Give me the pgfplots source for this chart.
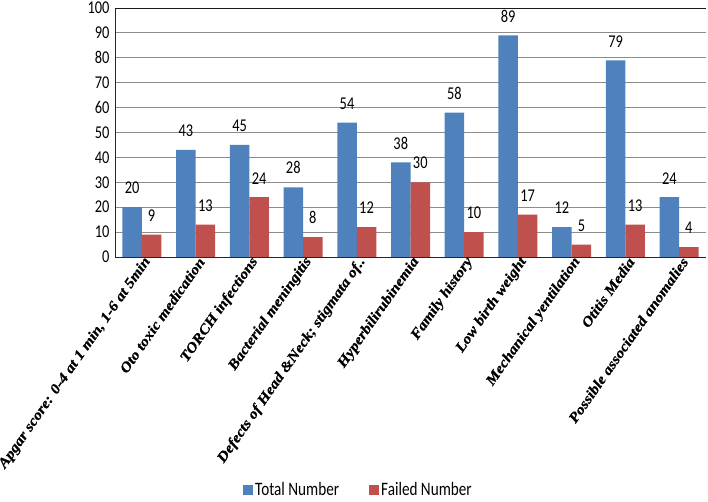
\documentclass[border=0pt]{standalone}
\usepackage{fontspec}
\usepackage{pgfplots}
\pgfplotsset{compat=1.18}
\newfontfamily\calib[FakeStretch=0.8]{Carlito}
\newfontfamily\catfont[FakeStretch=1.12,BoldItalicFeatures={FakeBold=0.8}]{Liberation Serif}
\definecolor{totalblue}{HTML}{4F81BD}
\definecolor{failred}{HTML}{C0504D}
\newcommand{\numfont}{\calib\fontsize{18}{18}\selectfont}

\begin{document}
\begin{tikzpicture}
\begin{axis}[
scale only axis,width=591pt,height=249pt,
ybar=0pt,bar width=19.5pt,
xmin=-0.5,xmax=10.5,ymin=0,ymax=100,
xtick={0,...,10},ytick={0,10,...,100},
xticklabels={
  {Apgar score: 0-4 at 1 min, 1-6 at 5min},
  {Oto toxic medication},
  {TORCH infections},
  {Bacterial meningitis},
  {Defects of Head \&Neck; stigmata of..},
  {Hyperbilirubinemia},
  {Family history},
  {Low birth weight},
  {Mechanical yentilation},
  {Otitis Media},
  {Possible associated anomalies}},
axis x line*=bottom,axis y line*=left,
axis line style={black!85,line width=0.9pt},
major tick length=0pt,
ymajorgrids,grid style={black!45,line width=0.8pt},
extra y ticks={100},extra y tick labels={},
extra y tick style={grid style={black!90,line width=0.9pt}},
/pgf/number format/assume math mode=true,
yticklabel style={font=\numfont,xshift=-2pt},
xticklabel style={font=\catfont\bfseries\itshape\fontsize{14.3}{16}\selectfont,
  rotate=55,anchor=east,xshift=5pt,yshift=-6pt},
nodes near coords,
every node near coord/.append style={font=\numfont,text=black,anchor=south,
  inner sep=0pt,yshift=13pt},
legend columns=2,
legend style={draw=none,fill=none,at={(0.412,-0.936)},anchor=center,
  font=\calib\fontsize{19}{19}\selectfont,
  /tikz/every even column/.append style={column sep=28pt}},
legend image code/.code={\fill[#1] (0pt,-5pt) rectangle (10pt,5pt);},
]
\coordinate (O) at (rel axis cs:0,0);
\addplot[fill=totalblue,draw=none] coordinates {
(0,20) (1,43) (2,45) (3,28) (4,54) (5,38) (6,58) (7,89) (8,12) (9,79) (10,24)};
\addlegendentry{Total Number}
\addplot[fill=failred,draw=none] coordinates {
(0,9) (1,13) (2,24) (3,8) (4,12) (5,30) (6,10) (7,17) (8,5) (9,13) (10,4)};
\addlegendentry{Failed Number}
\end{axis}
\pgfresetboundingbox
\path (O) ++(-115pt,-245pt) rectangle ++(708pt,502pt);
\end{tikzpicture}
\end{document}
